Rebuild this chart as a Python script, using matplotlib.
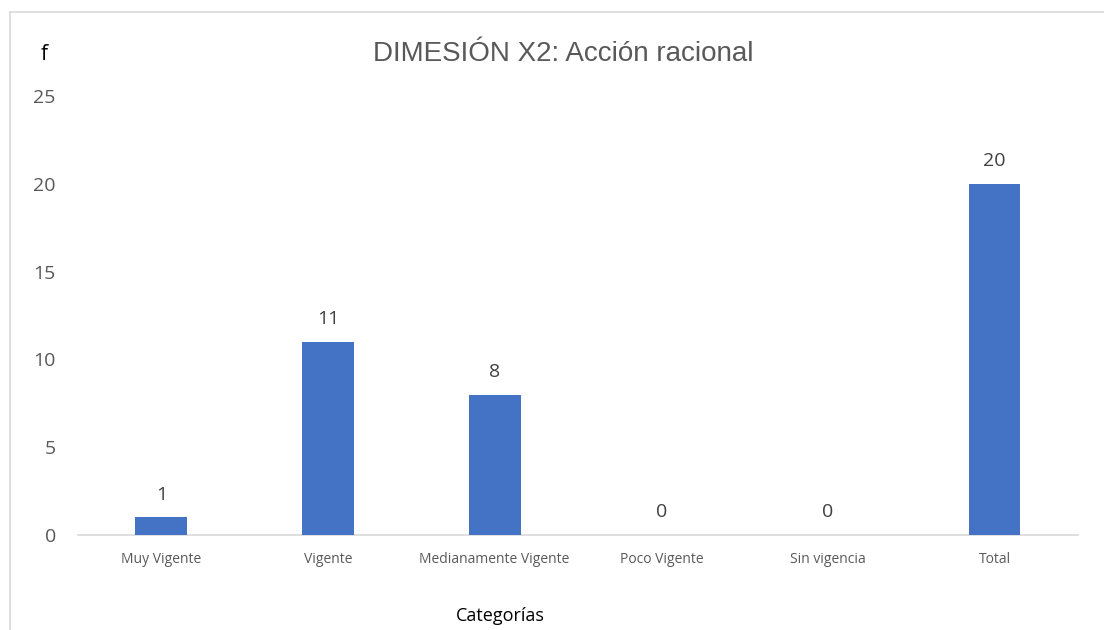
import matplotlib
matplotlib.use("Agg")
import matplotlib.pyplot as plt
from matplotlib.lines import Line2D

categories = ["Muy Vigente", "Vigente", "Medianamente Vigente", "Poco Vigente", "Sin vigencia", "Total"]
values = [1, 11, 8, 0, 0, 20]
yticks = [0, 5, 10, 15, 20, 25]

W, H = 1104, 630
fig = plt.figure(figsize=(W / 100, H / 100), dpi=100)
fig.patch.set_facecolor("white")

# outer chart frame (cropped at right and bottom)
fig.add_artist(Line2D([10 / W, 10 / W], [0, 1 - 12 / H], transform=fig.transFigure, color="#d9d9d9", lw=1.2))
fig.add_artist(Line2D([10 / W, 1], [1 - 12 / H, 1 - 12 / H], transform=fig.transFigure, color="#d9d9d9", lw=1.2))

ax = fig.add_axes([78 / W, 1 - 535 / H, 1000 / W, (535 - 96) / H])
x = list(range(len(categories)))
bars = ax.bar(x, values, width=0.31, color="#4472c4", zorder=3)
ax.set_xlim(-0.5, len(categories) - 0.5)
ax.set_ylim(0, 25)
ax.set_yticks(yticks)
ax.set_yticklabels([str(t) for t in yticks], fontsize=14, color="#595959", family="Open Sans")
ax.set_xticks(x)
ax.set_xticklabels(categories, fontsize=10, color="#595959", family="Open Sans")
ax.tick_params(axis="both", length=0)
ax.tick_params(axis="y", pad=16)
ax.tick_params(axis="x", pad=12)
for s in ["top", "right", "left"]:
    ax.spines[s].set_visible(False)
ax.spines["bottom"].set_color("#d9d9d9")
ax.spines["bottom"].set_linewidth(1.2)

for xi, v in zip(x, values):
    ax.annotate(str(v), (xi, v), xytext=(0, 10), textcoords="offset points",
                ha="center", va="bottom", fontsize=14, color="#404040", family="Open Sans")

fig.text(563 / W, 1 - 54 / H, "DIMESIÓN X2: Acción racional", ha="center", va="center",
         fontsize=20, color="#595959", family="Liberation Sans")
fig.text(44 / W, 1 - 54 / H, "f", ha="center", va="center", fontsize=15, color="black", family="Open Sans")
fig.text(500 / W, 1 - 616 / H, "Categorías", ha="center", va="center", fontsize=13, color="black", family="Open Sans")

fig.savefig("out.png", dpi=100)
